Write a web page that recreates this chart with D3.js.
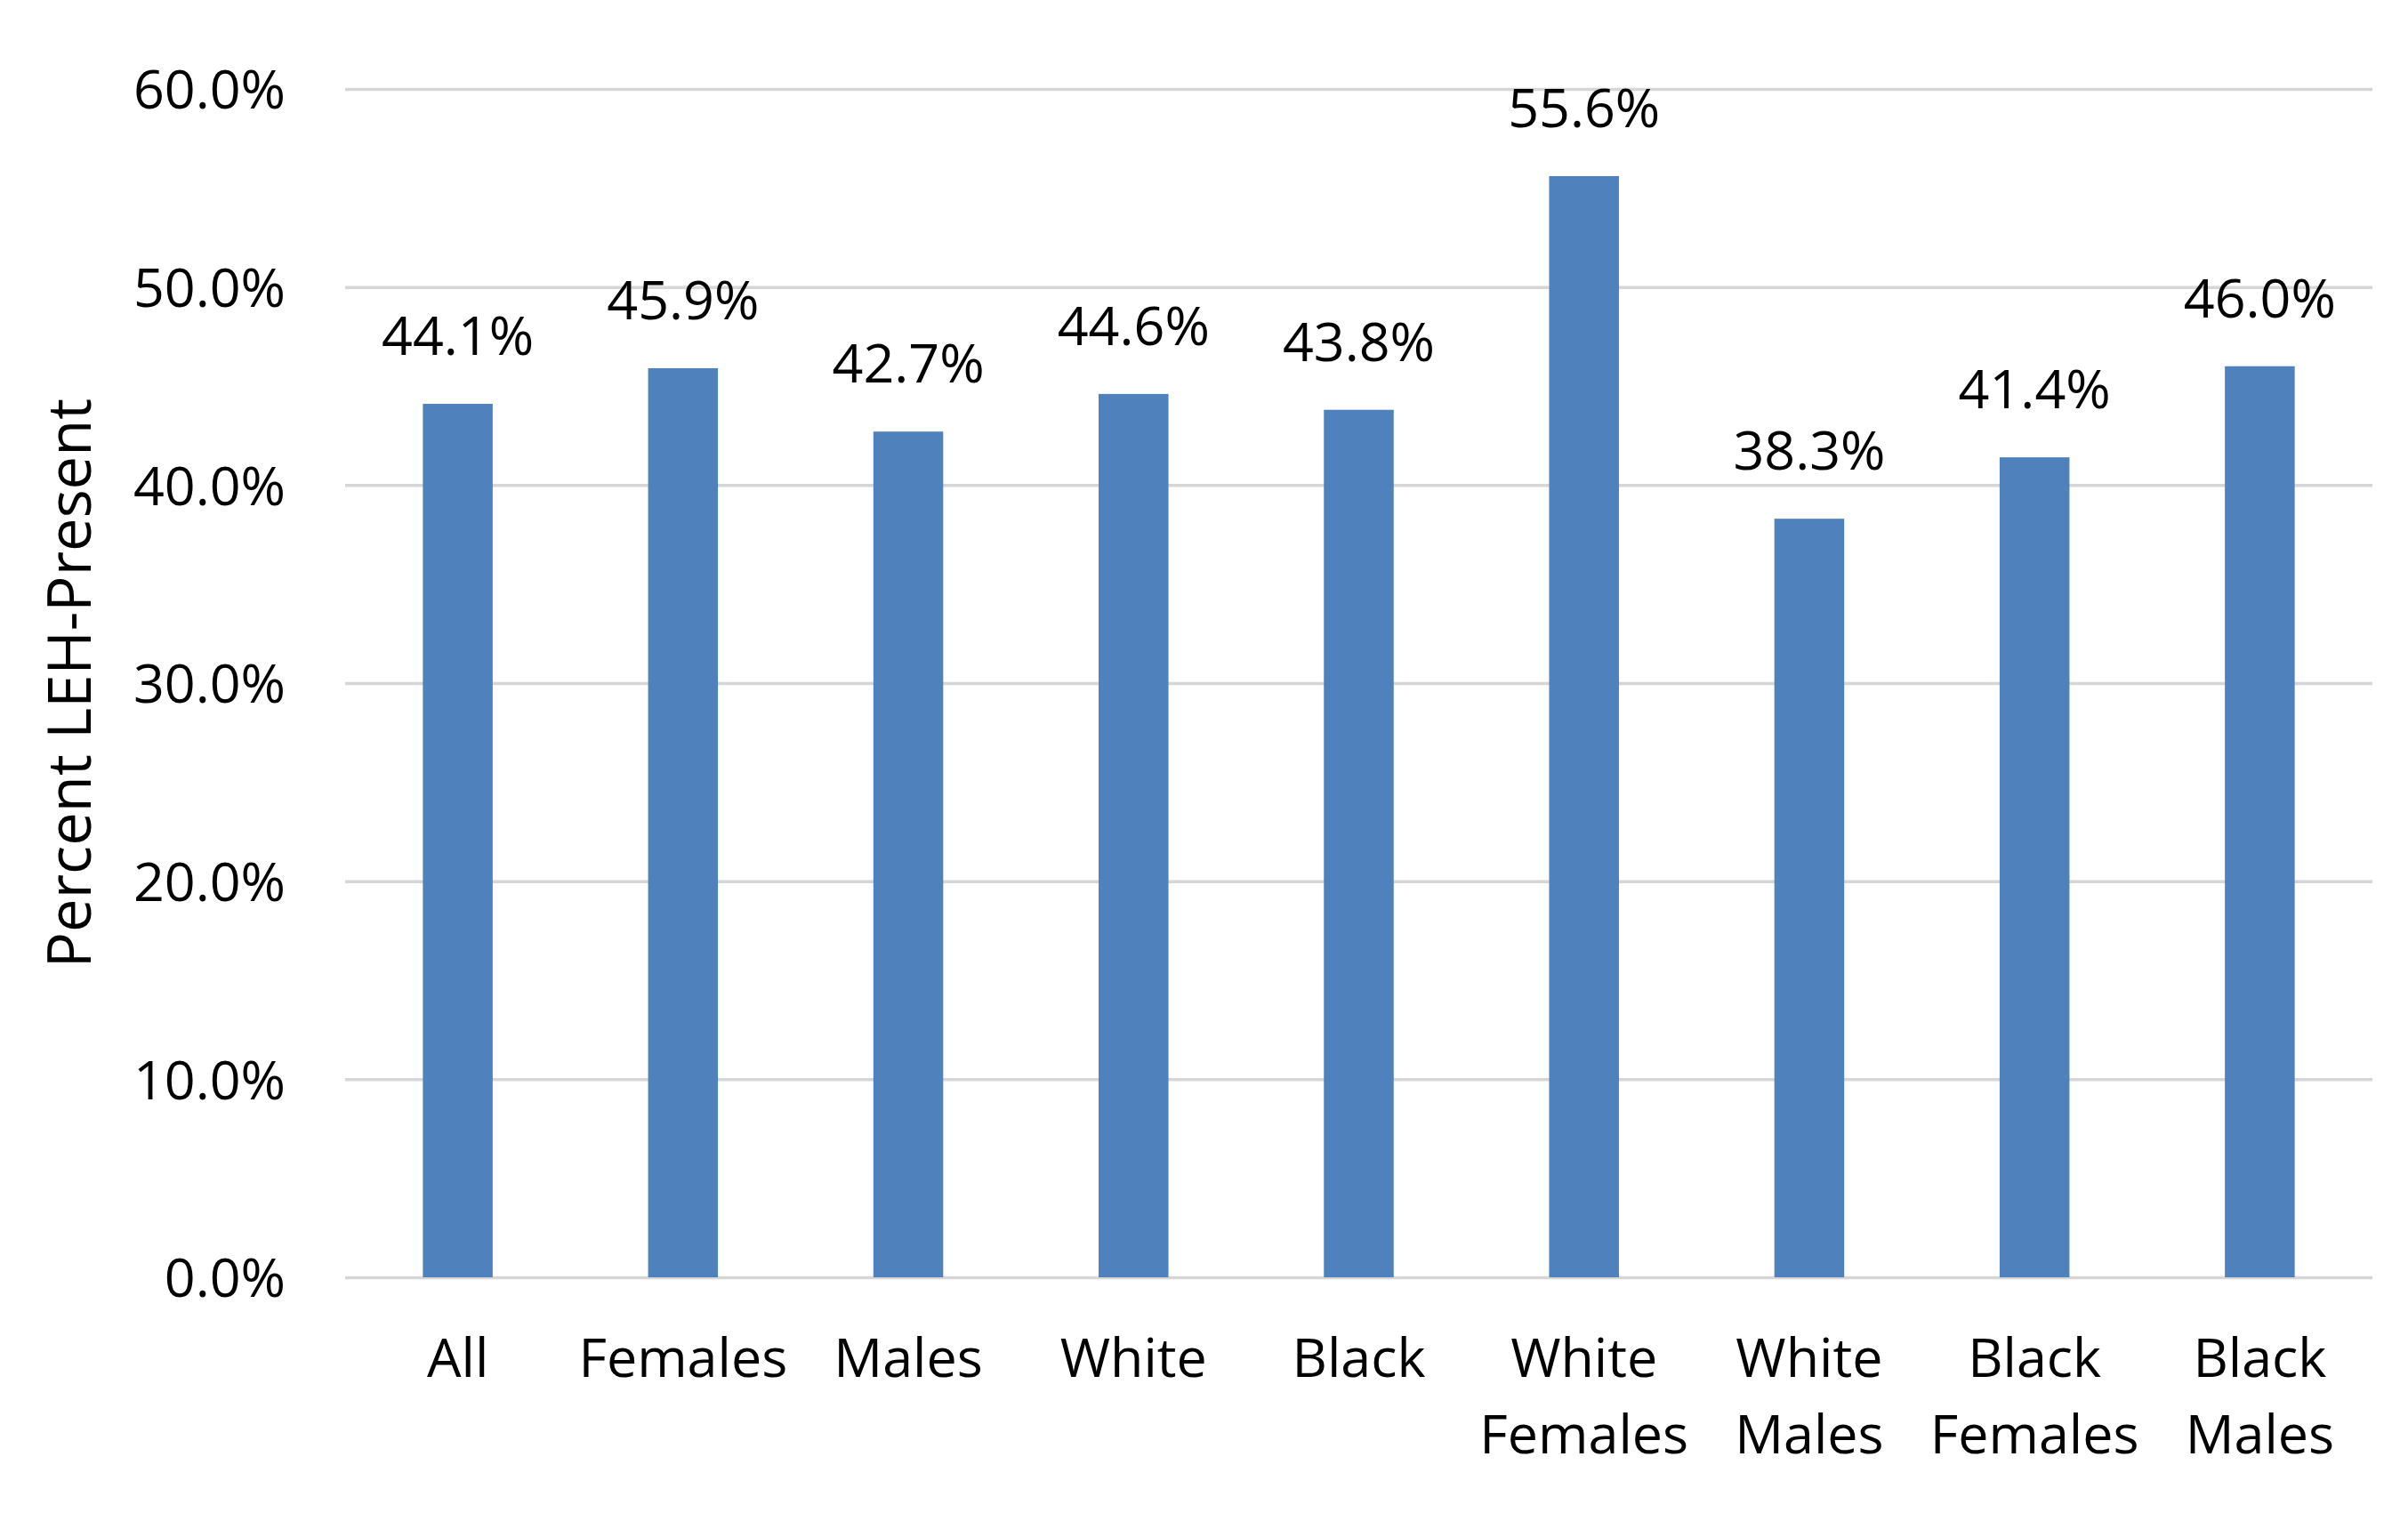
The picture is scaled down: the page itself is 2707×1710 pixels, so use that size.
<!DOCTYPE html>
<html>
<head>
<meta charset="utf-8">
<script src="https://cdn.jsdelivr.net/npm/d3@7"></script>
<style>
  html, body { margin: 0; padding: 0; background: #ffffff; }
  svg { display: block; }
  text { font-family: "Open Sans", "Noto Sans", sans-serif; fill: #000; }
</style>
</head>
<body>
<svg id="chart" width="2707" height="1710"></svg>
<script>
// ---- data ----
const categories = [
  ["All"], ["Females"], ["Males"], ["White"], ["Black"],
  ["White", "Females"], ["White", "Males"], ["Black", "Females"], ["Black", "Males"]
];
const values = [44.1, 45.9, 42.7, 44.6, 43.8, 55.6, 38.3, 41.4, 46.0];
const yTicks = [0, 10, 20, 30, 40, 50, 60];
const yTitle = "Percent LEH-Present";

// ---- layout ----
const plot = { left: 388, right: 2667, top: 100, bottom: 1436 };
const fontSize = 61;

const svg = d3.select("#chart");

const keys = categories.map((c, i) => i);
const x = d3.scaleBand()
  .domain(keys)
  .range([plot.left, plot.right])
  .paddingInner(0.69)
  .paddingOuter(0.345);

const y = d3.scaleLinear()
  .domain([0, 60])
  .range([plot.bottom, plot.top]);

const fmt = v => d3.format(".1f")(v) + "%";

// gridlines (via axis)
const gridAxis = d3.axisLeft(y)
  .tickValues(yTicks)
  .tickSize(-(plot.right - plot.left))
  .tickFormat("");
const grid = svg.append("g")
  .attr("transform", `translate(${plot.left},0)`)
  .call(gridAxis);
grid.select(".domain").remove();
grid.selectAll(".tick line")
  .attr("stroke", "#d6d6d6")
  .attr("stroke-width", 3.5);

// y tick labels (via axis)
const yAxis = d3.axisLeft(y)
  .tickValues(yTicks)
  .tickSize(0)
  .tickPadding(0)
  .tickFormat(fmt);
const ya = svg.append("g")
  .attr("transform", `translate(321,0)`)
  .call(yAxis);
ya.select(".domain").remove();
ya.selectAll(".tick text")
  .attr("font-family", "Open Sans")
  .attr("font-size", fontSize)
  .attr("fill", "#000")
  .attr("dy", "0.36em");

// bars
svg.append("g")
  .selectAll("rect")
  .data(values)
  .join("rect")
  .attr("x", (d, i) => x(i))
  .attr("y", d => y(d))
  .attr("width", x.bandwidth())
  .attr("height", d => y(0) - y(d))
  .attr("fill", "#4f81bd");

// data labels
svg.append("g")
  .selectAll("text")
  .data(values)
  .join("text")
  .attr("x", (d, i) => x(i) + x.bandwidth() / 2)
  .attr("y", d => y(d) - 55)
  .attr("text-anchor", "middle")
  .attr("font-size", fontSize)
  .text(d => fmt(d));

// category labels
const cat = svg.append("g")
  .selectAll("text")
  .data(categories)
  .join("text")
  .attr("x", (d, i) => x(i) + x.bandwidth() / 2)
  .attr("y", 1548)
  .attr("text-anchor", "middle")
  .attr("font-size", fontSize);
cat.selectAll("tspan")
  .data(d => d)
  .join("tspan")
  .attr("x", function () { return d3.select(this.parentNode).attr("x"); })
  .attr("dy", (d, j) => j === 0 ? 0 : 86)
  .text(d => d);

// y axis title
svg.append("text")
  .attr("transform", `translate(102, ${(plot.top + plot.bottom) / 2}) rotate(-90)`)
  .attr("text-anchor", "middle")
  .attr("font-size", 67)
  .text(yTitle);
</script>
</body>
</html>
